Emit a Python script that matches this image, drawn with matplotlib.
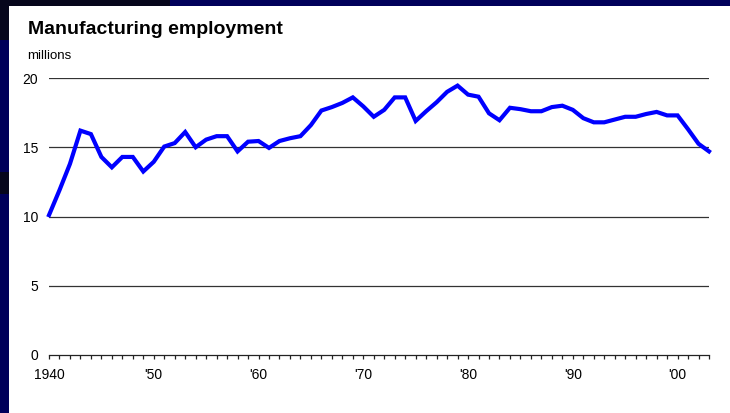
import matplotlib
matplotlib.use("Agg")
import matplotlib.pyplot as plt
from matplotlib.patches import Rectangle
from matplotlib.ticker import MultipleLocator

plt.rcParams['font.family'] = ['Liberation Sans', 'DejaVu Sans']

# Manufacturing employment, millions, 1940-2003
years = list(range(1940, 2004))
employment = [
    10.1, 11.9, 13.8, 16.2, 15.95, 14.3, 13.55, 14.3, 14.3, 13.25,
    13.95, 15.05, 15.3, 16.1, 15.0, 15.55, 15.8, 15.8, 14.7, 15.4,
    15.45, 14.95, 15.45, 15.65, 15.8, 16.6, 17.65, 17.9, 18.2, 18.6,
    17.95, 17.2, 17.7, 18.6, 18.6, 16.9, 17.6, 18.25, 19.0, 19.45,
    18.8, 18.65, 17.45, 16.95, 17.85, 17.75, 17.6, 17.6, 17.9, 18.0,
    17.7, 17.1, 16.8, 16.8, 17.0, 17.2, 17.2, 17.4, 17.55, 17.3,
    17.3, 16.3, 15.25, 14.7,
]
y_ticks = [0, 5, 10, 15, 20]
x_ticks = [1940, 1950, 1960, 1970, 1980, 1990, 2000]
x_labels = ['1940', "'50", "'60", "'70", "'80", "'90", "'00"]

W, H = 730, 413
fig = plt.figure(figsize=(W / 100, H / 100), dpi=100)
fig.patch.set_facecolor('#00005a')

# dark slide frame patches and the white panel
for x0, y0, w, h, c in [(0, 0, 170, 6, '#06061c'), (0, 0, 9, 40, '#06061c'),
                        (0, 172, 9, 22, '#06061c'), (9, 6, 721, 407, 'white')]:
    fig.add_artist(Rectangle((x0 / W, 1 - (y0 + h) / H), w / W, h / H,
                             transform=fig.transFigure, facecolor=c,
                             edgecolor='none', zorder=0))

ax = fig.add_axes([49 / W, (H - 355) / H, 660 / W, 277 / H])
ax.set_facecolor('none')

for v in y_ticks[1:]:
    ax.axhline(v, color='#333333', linewidth=0.9, zorder=1)

ax.plot(years, employment, color='#0000ff', linewidth=3.0,
        solid_joinstyle='miter', clip_on=False, zorder=3)

ax.set_xlim(1940, 2003)
ax.set_ylim(0, 20)
ax.set_xticks(x_ticks)
ax.set_xticklabels(x_labels)
ax.xaxis.set_minor_locator(MultipleLocator(1))
ax.set_yticks(y_ticks)

ax.tick_params(axis='x', which='both', direction='out', length=3.2,
               width=0.9, color='#222222', labelsize=10, pad=6.5)
ax.tick_params(axis='y', length=0, labelsize=10, pad=8)

for side in ['top', 'right', 'left']:
    ax.spines[side].set_visible(False)
ax.spines['bottom'].set_color('#222222')
ax.spines['bottom'].set_linewidth(0.9)

fig.text(28 / W, 1 - 33.5 / H, 'Manufacturing employment', fontsize=14,
         fontweight='bold', va='baseline', ha='left')
fig.text(27 / W, 1 - 59.3 / H, 'millions', fontsize=9.5,
         va='baseline', ha='left')

fig.savefig('out.png', dpi=100, facecolor=fig.get_facecolor())
